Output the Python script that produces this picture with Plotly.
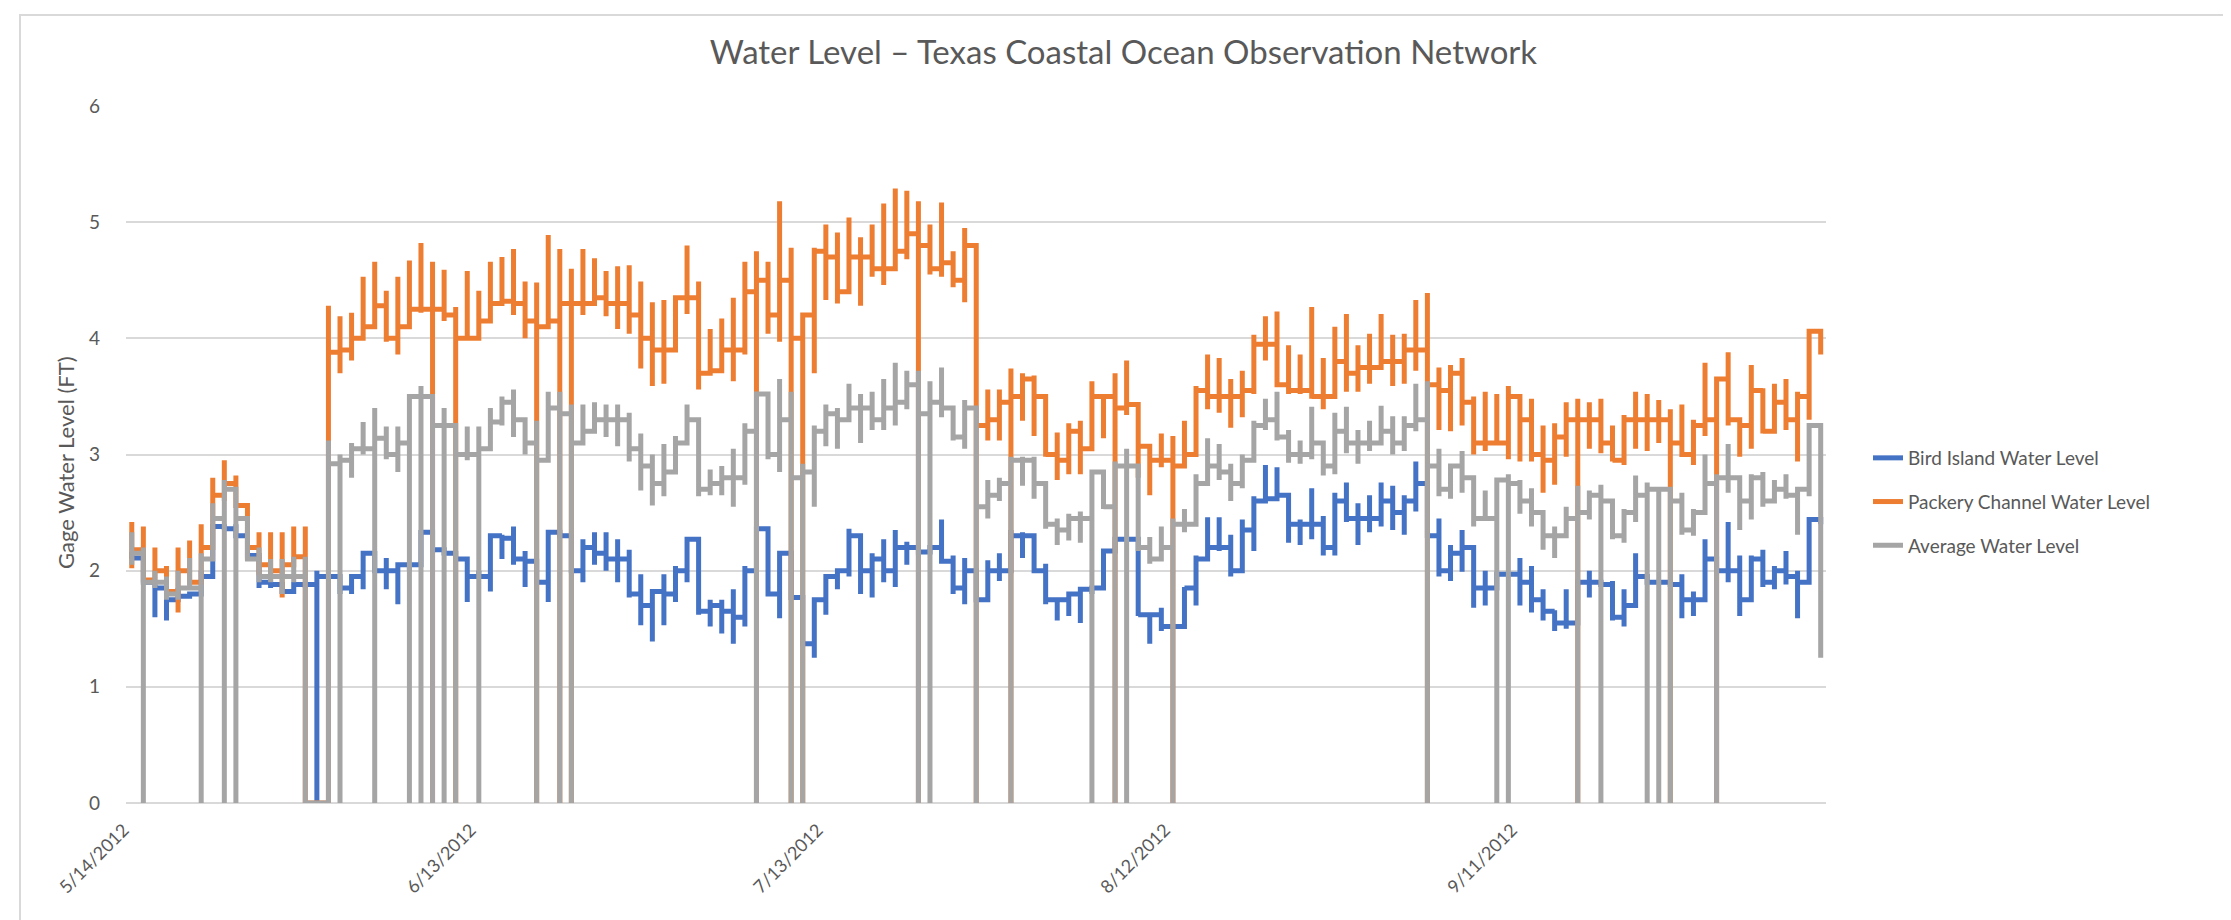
import pandas as pd
import plotly.graph_objects as go

# ---------------- data ----------------
start_date = "2012-05-14"
n_days = 147
dates = pd.date_range(start_date, periods=n_days, freq="D")

tick_dates = ["2012-05-14", "2012-06-13", "2012-07-13", "2012-08-12", "2012-09-11"]
tick_text = ["5/14/2012", "6/13/2012", "7/13/2012", "8/12/2012", "9/11/2012"]

series_names = ["Bird Island Water Level", "Packery Channel Water Level", "Average Water Level"]
series_colors = ["#4472C4", "#ED7D31", "#A5A5A5"]

# Bird Island: daily high, low, end-of-day value
bird_hi = [2.16, 2.11, 1.92, 1.85, 1.85, 1.82, 2.00, 2.38, 2.40, 2.40,
           2.35, 2.13, 1.92, 1.88, 1.90, 1.90, 2.00, 1.97, 1.95, 1.95,
           2.15, 2.17, 2.11, 2.05, 2.05, 2.35, 2.33, 2.18, 2.17, 2.10,
           2.00, 2.31, 2.31, 2.38, 2.17, 2.08, 2.33, 2.33, 2.30, 2.27,
           2.33, 2.33, 2.27, 2.18, 1.97, 1.82, 1.97, 2.04, 2.27, 2.26,
           1.75, 1.75, 1.84, 2.04, 2.36, 2.36, 2.17, 2.15, 1.77, 1.77,
           1.97, 2.02, 2.36, 2.30, 2.15, 2.27, 2.35, 2.25, 2.20, 2.22,
           2.44, 2.13, 2.11, 2.00, 2.09, 2.15, 2.35, 2.33, 2.29, 2.06,
           1.77, 1.82, 1.84, 1.85, 2.17, 2.27, 2.27, 2.27, 1.62, 1.68,
           1.52, 1.86, 2.13, 2.46, 2.46, 2.31, 2.44, 2.64, 2.91, 2.89,
           2.64, 2.44, 2.71, 2.47, 2.67, 2.76, 2.58, 2.65, 2.76, 2.73,
           2.65, 2.94, 2.75, 2.45, 2.22, 2.35, 2.18, 2.00, 1.99, 1.99,
           2.11, 2.04, 1.84, 1.66, 1.84, 1.90, 2.00, 1.90, 1.91, 1.84,
           2.15, 1.95, 1.92, 1.90, 1.97, 1.82, 2.27, 2.10, 2.42, 2.13,
           2.13, 2.18, 2.04, 2.17, 2.00, 2.44, 2.44]
bird_lo = [2.10, 1.90, 1.60, 1.57, 1.75, 1.78, 1.80, 1.95, 2.35, 2.30,
           2.11, 1.85, 1.85, 1.80, 1.80, 1.85, 0.00, 1.93, 1.80, 1.80,
           1.84, 2.00, 1.84, 1.71, 2.00, 2.05, 2.15, 2.13, 2.10, 1.73,
           1.95, 1.82, 2.10, 2.05, 1.86, 1.90, 1.73, 2.30, 2.00, 1.90,
           2.05, 2.00, 1.90, 1.77, 1.53, 1.39, 1.53, 1.73, 1.90, 1.62,
           1.52, 1.46, 1.37, 1.52, 2.00, 1.80, 1.59, 1.77, 1.37, 1.25,
           1.62, 1.84, 1.95, 1.80, 1.77, 1.90, 1.86, 2.05, 2.16, 2.16,
           2.08, 1.80, 1.71, 1.75, 1.75, 1.91, 2.00, 2.11, 2.00, 1.71,
           1.57, 1.61, 1.55, 1.80, 1.86, 2.17, 2.25, 1.61, 1.37, 1.48,
           1.50, 1.52, 1.70, 2.08, 2.17, 1.95, 1.99, 2.17, 2.58, 2.62,
           2.24, 2.22, 2.27, 2.13, 2.13, 2.42, 2.22, 2.33, 2.38, 2.35,
           2.31, 2.51, 2.30, 1.95, 1.91, 1.99, 1.68, 1.70, 1.85, 1.95,
           1.70, 1.64, 1.57, 1.48, 1.50, 1.55, 1.77, 1.88, 1.57, 1.52,
           1.70, 1.90, 1.90, 1.88, 1.59, 1.61, 1.73, 2.00, 1.90, 1.61,
           1.73, 1.86, 1.84, 1.88, 1.59, 1.88, 2.40]
bird_end = [2.11, 1.90, 1.85, 1.75, 1.78, 1.80, 1.95, 2.38, 2.36, 2.30,
            2.13, 1.90, 1.88, 1.82, 1.88, 1.88, 1.95, 1.95, 1.85, 1.95,
            2.15, 2.00, 2.00, 2.05, 2.05, 2.33, 2.18, 2.15, 2.10, 1.95,
            1.95, 2.30, 2.28, 2.10, 2.08, 1.90, 2.33, 2.30, 2.00, 2.20,
            2.15, 2.10, 2.10, 1.80, 1.70, 1.82, 1.80, 2.00, 2.27, 1.65,
            1.70, 1.65, 1.60, 2.00, 2.36, 1.80, 2.15, 1.77, 1.37, 1.75,
            1.95, 2.00, 2.30, 2.00, 2.10, 2.00, 2.20, 2.20, 2.16, 2.20,
            2.08, 1.85, 2.00, 1.75, 2.00, 2.00, 2.30, 2.30, 2.00, 1.75,
            1.75, 1.80, 1.84, 1.85, 2.17, 2.27, 2.27, 1.62, 1.62, 1.52,
            1.52, 1.85, 2.10, 2.20, 2.20, 2.00, 2.35, 2.60, 2.62, 2.65,
            2.40, 2.40, 2.40, 2.20, 2.60, 2.45, 2.45, 2.45, 2.60, 2.50,
            2.60, 2.75, 2.30, 2.00, 2.15, 2.20, 1.85, 1.85, 1.97, 1.97,
            1.90, 1.75, 1.65, 1.55, 1.55, 1.90, 1.90, 1.88, 1.60, 1.70,
            1.95, 1.90, 1.90, 1.88, 1.75, 1.75, 2.10, 2.00, 2.00, 1.75,
            2.10, 1.90, 2.00, 1.95, 1.90, 2.44, 2.44]

# Packery Channel: daily high, low, end-of-day value
pack_hi = [2.42, 2.38, 2.20, 2.04, 2.20, 2.26, 2.40, 2.80, 2.95, 2.82,
           2.56, 2.33, 2.33, 2.33, 2.38, 2.38, 0.00, 4.28, 4.19, 4.22,
           4.53, 4.66, 4.41, 4.53, 4.67, 4.82, 4.66, 4.59, 4.27, 4.58,
           4.41, 4.66, 4.70, 4.77, 4.49, 4.48, 4.89, 4.77, 4.60, 4.77,
           4.69, 4.58, 4.62, 4.63, 4.49, 4.31, 4.33, 4.37, 4.80, 4.49,
           4.08, 4.17, 4.35, 4.66, 4.75, 4.66, 5.18, 4.78, 4.21, 4.78,
           4.98, 4.91, 5.04, 4.87, 4.98, 5.16, 5.29, 5.27, 5.18, 4.98,
           5.17, 4.75, 4.95, 4.80, 3.56, 3.56, 3.74, 3.70, 3.68, 3.50,
           3.19, 3.27, 3.29, 3.63, 3.52, 3.70, 3.81, 3.43, 3.07, 3.18,
           3.16, 3.29, 3.59, 3.86, 3.83, 3.65, 3.72, 4.03, 4.19, 4.23,
           3.94, 3.86, 4.27, 3.83, 4.10, 4.21, 3.94, 4.04, 4.21, 4.03,
           4.04, 4.33, 4.39, 3.75, 3.77, 3.83, 3.50, 3.54, 3.52, 3.59,
           3.48, 3.48, 3.25, 3.27, 3.45, 3.48, 3.45, 3.48, 3.25, 3.34,
           3.54, 3.52, 3.47, 3.39, 3.43, 3.30, 3.79, 3.61, 3.88, 3.29,
           3.77, 3.57, 3.61, 3.65, 3.54, 4.06, 4.06]
pack_lo = [2.02, 1.92, 1.90, 1.80, 1.64, 1.90, 2.00, 2.30, 2.60, 2.56,
           2.09, 1.96, 1.92, 1.77, 2.09, 0.00, 0.00, 0.00, 3.70, 3.81,
           4.04, 4.10, 3.97, 3.86, 4.22, 4.22, 0.00, 4.15, 0.00, 4.00,
           4.00, 4.15, 4.31, 4.20, 4.00, 0.00, 4.10, 0.00, 0.00, 4.20,
           4.28, 4.19, 4.08, 4.04, 3.74, 3.59, 3.61, 3.92, 4.21, 3.56,
           3.75, 3.72, 3.63, 3.86, 0.00, 4.04, 3.97, 0.00, 0.00, 3.70,
           4.33, 4.30, 4.66, 4.28, 4.53, 4.46, 4.60, 4.68, 0.00, 4.55,
           4.53, 4.44, 4.31, 0.00, 3.12, 3.12, 0.00, 3.29, 3.16, 2.98,
           2.78, 2.83, 2.83, 3.05, 3.14, 0.00, 3.34, 2.80, 2.65, 2.89,
           0.00, 2.89, 3.01, 3.39, 3.36, 3.23, 3.32, 3.52, 3.81, 3.61,
           3.52, 3.52, 3.48, 3.39, 3.52, 3.54, 3.54, 3.61, 3.75, 3.59,
           3.61, 3.72, 0.00, 3.21, 3.20, 3.25, 3.00, 3.03, 3.10, 2.96,
           2.94, 2.94, 2.67, 2.74, 2.98, 0.00, 3.05, 3.01, 2.94, 2.91,
           3.05, 3.03, 3.10, 0.00, 3.00, 2.91, 3.16, 0.00, 3.25, 2.98,
           3.05, 3.18, 3.20, 3.21, 2.94, 3.30, 3.86]
pack_end = [2.18, 1.92, 2.00, 1.82, 2.00, 1.90, 2.20, 2.65, 2.75, 2.56,
            2.20, 2.05, 2.00, 2.05, 2.12, 0.00, 0.00, 3.88, 3.90, 4.00,
            4.10, 4.28, 4.00, 4.10, 4.25, 4.25, 4.25, 4.20, 4.00, 4.00,
            4.15, 4.30, 4.32, 4.30, 4.15, 4.10, 4.15, 4.30, 4.30, 4.30,
            4.35, 4.30, 4.30, 4.20, 4.00, 3.90, 3.90, 4.35, 4.35, 3.70,
            3.72, 3.90, 3.90, 4.40, 4.50, 4.20, 4.50, 4.00, 4.20, 4.75,
            4.70, 4.40, 4.70, 4.70, 4.60, 4.60, 4.75, 4.90, 4.80, 4.60,
            4.65, 4.50, 4.80, 3.25, 3.30, 3.45, 3.50, 3.65, 3.50, 3.00,
            2.95, 3.20, 3.05, 3.50, 3.50, 3.40, 3.43, 3.07, 2.95, 2.95,
            2.90, 3.00, 3.55, 3.50, 3.50, 3.50, 3.55, 3.95, 3.95, 3.60,
            3.55, 3.55, 3.50, 3.50, 3.80, 3.70, 3.75, 3.75, 3.80, 3.80,
            3.90, 3.90, 3.60, 3.55, 3.70, 3.45, 3.10, 3.10, 3.10, 3.50,
            3.30, 3.00, 2.95, 3.15, 3.30, 3.30, 3.30, 3.10, 2.95, 3.30,
            3.30, 3.30, 3.30, 3.10, 3.00, 3.25, 3.30, 3.65, 3.30, 3.25,
            3.55, 3.20, 3.45, 3.30, 3.50, 4.06, 3.86]

# Average: daily high, low, end-of-day value
avg_hi = [2.33, 2.20, 2.00, 1.95, 2.00, 2.11, 2.15, 2.58, 2.78, 2.70,
          2.47, 2.20, 2.10, 2.10, 2.12, 2.12, 0.00, 3.12, 3.00, 3.10,
          3.28, 3.40, 3.24, 3.24, 3.50, 3.59, 3.45, 3.40, 3.20, 3.24,
          3.24, 3.40, 3.50, 3.56, 3.29, 3.29, 3.54, 3.54, 3.43, 3.43,
          3.45, 3.43, 3.43, 3.36, 3.18, 3.00, 3.09, 3.16, 3.43, 3.29,
          2.87, 2.90, 3.05, 3.27, 3.52, 3.48, 3.65, 3.54, 2.92, 3.25,
          3.43, 3.40, 3.61, 3.52, 3.54, 3.65, 3.79, 3.72, 3.72, 3.63,
          3.75, 3.38, 3.47, 3.39, 2.78, 2.80, 2.98, 2.98, 2.98, 2.75,
          2.45, 2.49, 2.51, 2.87, 2.65, 2.94, 3.05, 2.80, 2.29, 2.38,
          2.45, 2.53, 2.83, 3.14, 3.09, 2.92, 3.00, 3.29, 3.48, 3.54,
          3.21, 3.12, 3.41, 3.07, 3.36, 3.41, 3.21, 3.29, 3.42, 3.33,
          3.33, 3.61, 3.63, 3.05, 2.92, 3.03, 2.78, 2.69, 2.78, 2.83,
          2.78, 2.71, 2.47, 2.38, 2.55, 2.73, 2.69, 2.74, 2.55, 2.53,
          2.82, 2.76, 2.69, 2.69, 2.67, 2.53, 3.00, 2.83, 3.09, 2.71,
          2.83, 2.85, 2.78, 2.83, 2.71, 3.25, 3.25]
avg_lo = [2.05, 0.00, 1.85, 1.75, 1.75, 1.85, 0.00, 2.10, 0.00, 0.00,
          2.10, 1.90, 1.90, 1.80, 1.90, 0.00, 0.00, 0.00, 0.00, 2.80,
          3.00, 0.00, 2.96, 2.85, 0.00, 0.00, 0.00, 0.00, 0.00, 2.95,
          0.00, 3.05, 3.25, 3.15, 3.00, 0.00, 2.96, 0.00, 0.00, 3.12,
          3.25, 3.15, 3.07, 2.94, 2.69, 2.56, 2.64, 2.85, 3.12, 2.64,
          2.65, 2.65, 2.55, 2.74, 0.00, 2.96, 2.85, 0.00, 0.00, 2.55,
          3.07, 3.05, 3.30, 3.10, 3.21, 3.21, 3.25, 3.39, 0.00, 0.00,
          3.32, 3.12, 3.05, 0.00, 2.45, 2.60, 0.00, 2.73, 2.62, 2.36,
          2.22, 2.26, 2.24, 0.00, 2.53, 0.00, 0.00, 2.17, 2.06, 2.15,
          0.00, 2.33, 2.40, 2.82, 2.78, 2.60, 2.71, 2.98, 3.21, 3.12,
          2.93, 2.92, 2.96, 2.82, 2.83, 3.01, 2.92, 3.03, 3.10, 3.00,
          3.03, 3.20, 0.00, 2.64, 2.62, 2.67, 2.38, 2.45, 0.00, 0.00,
          2.49, 2.38, 2.18, 2.11, 2.35, 0.00, 2.44, 0.00, 2.27, 2.24,
          2.42, 0.00, 0.00, 0.00, 2.31, 2.30, 2.64, 0.00, 2.67, 2.35,
          2.44, 2.55, 2.60, 2.62, 2.31, 2.64, 1.25]
avg_end = [2.15, 1.90, 1.90, 1.80, 1.85, 1.85, 2.10, 2.45, 2.70, 2.45,
           2.10, 1.95, 1.95, 1.95, 1.95, 0.00, 0.00, 2.92, 2.95, 3.05,
           3.05, 3.14, 3.00, 3.10, 3.50, 3.50, 3.25, 3.25, 3.00, 3.00,
           3.05, 3.28, 3.45, 3.30, 3.10, 2.95, 3.40, 3.35, 3.10, 3.20,
           3.30, 3.30, 3.30, 3.05, 2.90, 2.75, 2.85, 3.10, 3.30, 2.70,
           2.75, 2.80, 2.80, 3.20, 3.52, 3.00, 3.30, 2.80, 2.85, 3.20,
           3.35, 3.30, 3.40, 3.40, 3.30, 3.40, 3.45, 3.60, 3.35, 3.45,
           3.40, 3.15, 3.40, 2.55, 2.65, 2.75, 2.95, 2.95, 2.75, 2.40,
           2.35, 2.45, 2.45, 2.85, 2.55, 2.90, 2.90, 2.20, 2.10, 2.20,
           2.40, 2.40, 2.75, 2.90, 2.85, 2.75, 2.95, 3.25, 3.30, 3.15,
           3.00, 3.00, 3.10, 2.90, 3.20, 3.10, 3.10, 3.10, 3.20, 3.10,
           3.25, 3.30, 2.90, 2.70, 2.90, 2.80, 2.45, 2.45, 2.78, 2.75,
           2.60, 2.50, 2.30, 2.30, 2.45, 2.50, 2.65, 2.60, 2.30, 2.50,
           2.65, 2.70, 2.70, 2.60, 2.35, 2.50, 2.75, 2.80, 2.80, 2.60,
           2.80, 2.60, 2.70, 2.65, 2.70, 3.25, 1.25]

series_hi = [bird_hi, pack_hi, avg_hi]
series_lo = [bird_lo, pack_lo, avg_lo]
series_end = [bird_end, pack_end, avg_end]


# ---------------- build the step-like path (all readings of a day share one x) ----------------
def day_path(hi, lo, end):
    xs, ys = [], []
    prev = None
    for d, h, l, e in zip(dates, hi, lo, end):
        vals = ([prev] if prev is not None else []) + [h, l, e]
        xs.extend([d] * len(vals))
        ys.extend(vals)
        prev = e
    return xs, ys


font_family = "Lato, 'Open Sans', sans-serif"
text_color = "#595959"
grid_color = "#D9D9D9"

fig = go.Figure()
for name, color, hi, lo, end in zip(series_names, series_colors, series_hi, series_lo, series_end):
    xs, ys = day_path(hi, lo, end)
    fig.add_trace(go.Scatter(
        x=xs, y=ys, mode="lines", name=name, legendgroup=name,
        line=dict(color=color, width=5),
    ))

W, H = 2231, 920
L, R, T, B = 118, 2231 - 1818, 98, 920 - 795
PW, PH = W - L - R, H - T - B

fig.update_layout(
    width=W, height=H, autosize=False,
    margin=dict(l=L, r=R, t=T, b=B, autoexpand=False),
    paper_bgcolor="white", plot_bgcolor="white",
    font=dict(family=font_family, color=text_color, size=18),
    title=dict(
        text="Water Level \u2013 Texas Coastal Ocean Observation Network",
        x=0.5, xref="container", xanchor="center",
        y=1 - 44 / H, yref="container", yanchor="middle",
        font=dict(size=33, color=text_color, family=font_family),
    ),
    showlegend=True,
    legend=dict(
        x=(1860 - L) / PW, xref="paper", xanchor="left",
        y=(795 - 494) / PH, yanchor="middle",
        font=dict(size=19, color=text_color),
        traceorder="grouped", tracegroupgap=16,
        bgcolor="rgba(0,0,0,0)",
    ),
    xaxis=dict(
        type="date",
        range=[pd.Timestamp(start_date) - pd.Timedelta(hours=12),
               pd.Timestamp(start_date) + pd.Timedelta(days=n_days - 1, hours=11)],
        tickvals=pd.to_datetime(tick_dates), ticktext=tick_text,
        tickangle=-45, tickfont=dict(size=18, color=text_color),
        showgrid=False, zeroline=False, showline=False, ticks="",
        ticklabelstandoff=12, ticklabelshift=-8,
    ),
    yaxis=dict(
        range=[0, 6], dtick=1, tick0=0,
        showgrid=True, gridcolor=grid_color, gridwidth=1.5,
        zeroline=True, zerolinecolor=grid_color, zerolinewidth=1.5,
        showline=False, ticks="", tickfont=dict(size=19, color=text_color),
        ticklabelstandoff=25,
    ),
    annotations=[dict(
        text="Gage Water Level (FT)", textangle=-90,
        xref="paper", yref="paper",
        x=(57 - L) / PW, y=(795 - 455) / PH,
        xanchor="center", yanchor="middle", showarrow=False,
        font=dict(size=22, color=text_color, family=font_family),
    )],
    shapes=[dict(
        type="rect", xref="paper", yref="paper", layer="below",
        x0=(12 - L) / PW, x1=(2218 - L) / PW,
        y0=(795 - 940) / PH, y1=(795 - 7) / PH,
        line=dict(color=grid_color, width=2), fillcolor="rgba(0,0,0,0)",
    )],
)

fig.write_html("out.html")
